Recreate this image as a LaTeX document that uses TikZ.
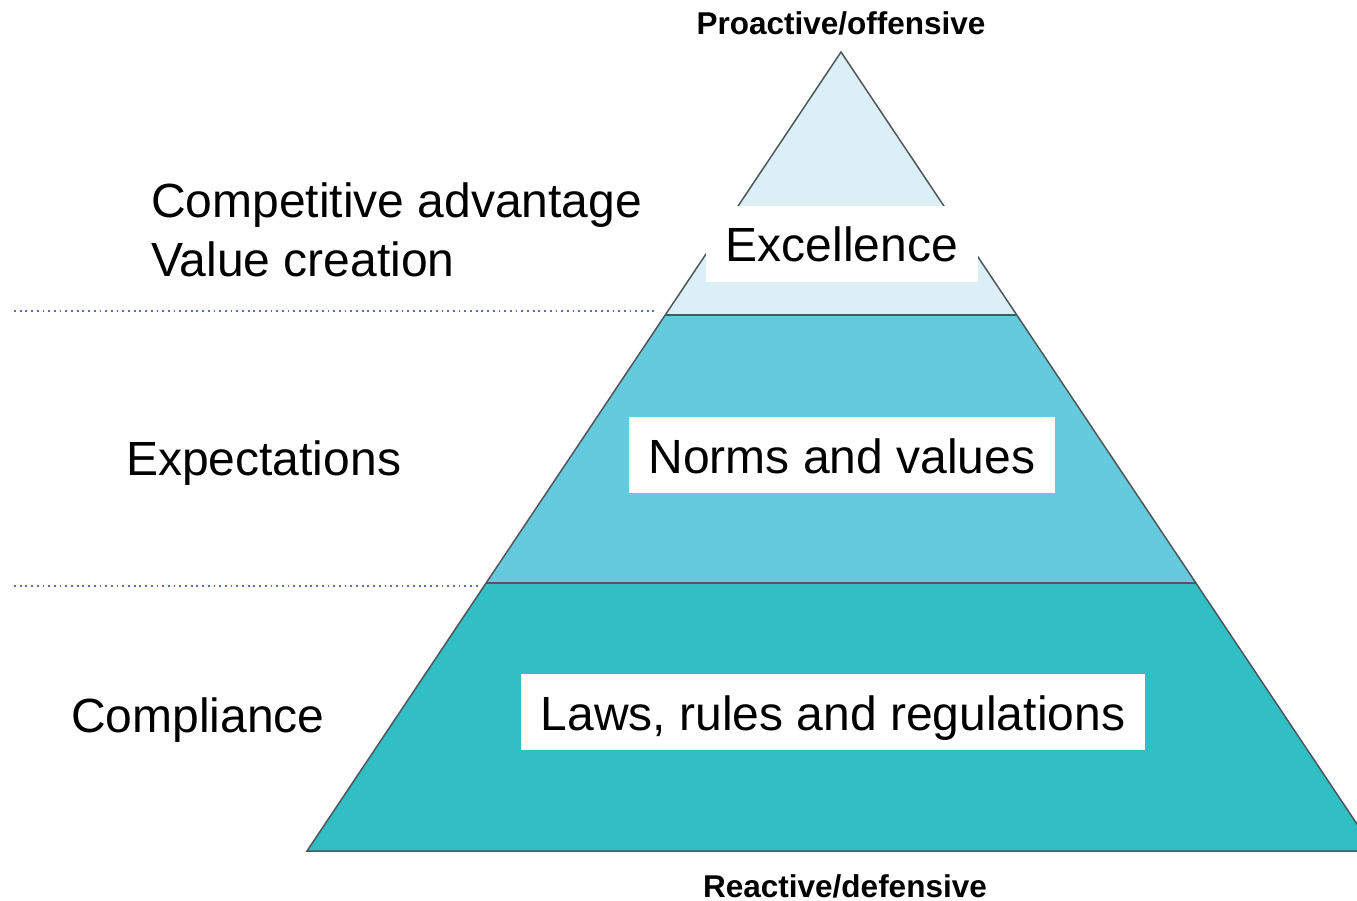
\documentclass[tikz,border=0pt]{standalone}
\usepackage{fontspec}
\setmainfont{Liberation Sans}
\usepackage{xcolor}
\definecolor{tiertop}{HTML}{DAF0F6}
\definecolor{tiermid}{HTML}{66CADF}
\definecolor{tierlow}{HTML}{31BEC4}
\definecolor{edgegray}{HTML}{4E5759}
\definecolor{dotblue}{HTML}{5B6FA8}
\usetikzlibrary{positioning}

\begin{document}
\begin{tikzpicture}
  [x=1pt,y=-1pt,
   tier/.style={draw=edgegray,line width=1.5pt,line join=miter},
   levelbox/.style={fill=white,font=\fontsize{48}{57}\selectfont,inner xsep=20pt,inner ysep=15pt,text height=41pt,text depth=5pt},
   sidelabel/.style={anchor=base west,inner sep=0pt,font=\fontsize{48}{57}\selectfont},
   endlabel/.style={font=\fontsize{31.5}{36}\selectfont\bfseries,inner sep=0pt},
   divider/.style={dotblue,line width=1.8pt,dash pattern=on 1.8pt off 3.9pt}]
  \useasboundingbox (0,0) rectangle (1357,901);
  \clip (0,0) rectangle (1357,901);
  % corners of the three tiers
  \coordinate (apex) at (841,52);
  \coordinate (l1) at (665,315);
  \coordinate (r1) at (1017,315);
  \coordinate (l2) at (486,583);
  \coordinate (r2) at (1196,583);
  \coordinate (l3) at (307,851);
  \coordinate (r3) at (1375,851);
  \fill[tierlow] (l2) -- (r2) -- (r3) -- (l3) -- cycle;
  \fill[tiermid] (l1) -- (r1) -- (r2) -- (l2) -- cycle;
  \fill[tiertop] (apex) -- (r1) -- (l1) -- cycle;
  \draw[tier] (apex) -- (l3) -- (r3) -- cycle;
  \draw[tier] (l1) -- (r1);
  \draw[tier] (l2) -- (r2);

  \node[levelbox] (excel) at (842,244) {Excellence};
  \node[levelbox] (norms) at (842,455) {Norms and values};
  \node[levelbox] (laws) at (833,712) {Laws, rules and regulations};

  \node[endlabel] (pro) at (841,23) {Proactive/offensive};
  \node[endlabel] (re) at (845,886) {Reactive/defensive};

  \node[sidelabel] (comp) at (151,218) {Competitive advantage};
  \node[sidelabel] (value) at (151,277) {Value creation};
  \node[sidelabel] (expect) at (126,475) {Expectations};
  \node[sidelabel] (compl) at (71,732) {Compliance};

  \coordinate (d1a) at (14,311);
  \coordinate (d1b) at (656,311);
  \coordinate (d2a) at (14,586);
  \coordinate (d2b) at (478,586);
  \draw[divider] (d1a) -- (d1b);
  \draw[divider] (d2a) -- (d2b);
\end{tikzpicture}
\end{document}
